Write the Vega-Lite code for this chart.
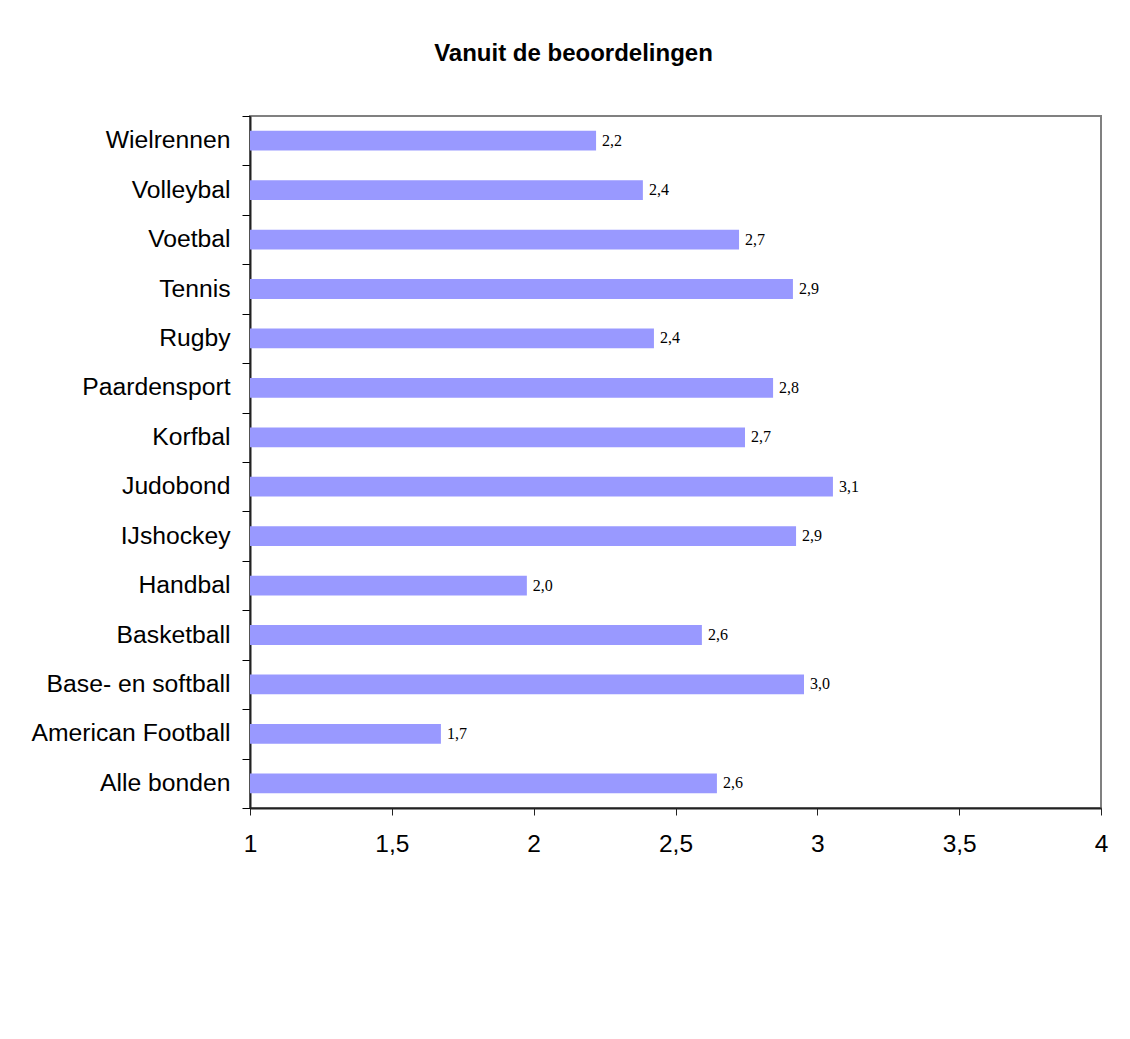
{
  "$schema": "https://vega.github.io/schema/vega-lite/v6.json",
  "autosize": {"type": "none"},
  "width": 851,
  "height": 692,
  "padding": {"left": 250, "top": 116, "right": 29, "bottom": 231},
  "background": "white",
  "title": {
    "text": "Vanuit de beoordelingen",
    "font": "Liberation Sans",
    "fontSize": 24,
    "fontWeight": "bold",
    "color": "black",
    "anchor": "middle",
    "frame": "group",
    "dx": -102,
    "offset": 37
  },
  "data": {
    "values": [
      {"bond": "Wielrennen", "score": 2.22},
      {"bond": "Volleybal", "score": 2.385},
      {"bond": "Voetbal", "score": 2.724},
      {"bond": "Tennis", "score": 2.914},
      {"bond": "Rugby", "score": 2.424},
      {"bond": "Paardensport", "score": 2.844},
      {"bond": "Korfbal", "score": 2.745},
      {"bond": "Judobond", "score": 3.055},
      {"bond": "IJshockey", "score": 2.925},
      {"bond": "Handbal", "score": 1.976},
      {"bond": "Basketball", "score": 2.593},
      {"bond": "Base- en softball", "score": 2.953},
      {"bond": "American Football", "score": 1.673},
      {"bond": "Alle bonden", "score": 2.646}
    ]
  },
  "encoding": {
    "y": {
      "field": "bond",
      "type": "nominal",
      "sort": null,
      "scale": {"paddingInner": 0, "paddingOuter": 0},
      "axis": {
        "title": null,
        "tickBand": "extent",
        "tickSize": 8,
        "tickColor": "black",
        "tickWidth": 1,
        "domainColor": "#222222",
        "domainWidth": 2,
        "labelPadding": 12,
        "labelFont": "Liberation Sans",
        "labelFontSize": 24.7,
        "labelColor": "black",
        "labelLimit": 400,
        "grid": false
      }
    }
  },
  "layer": [
    {
      "mark": {"type": "bar", "color": "#9999FF", "height": {"band": 0.4}},
      "encoding": {
        "x": {
          "field": "score",
          "type": "quantitative",
          "scale": {"domain": [1, 4], "nice": false, "zero": false},
          "axis": {
            "title": null,
            "values": [1, 1.5, 2, 2.5, 3, 3.5, 4],
            "format": ".1~f",
            "grid": false,
            "tickSize": 7,
            "tickColor": "#222222",
            "tickWidth": 1,
            "domainColor": "#222222",
            "domainWidth": 2,
            "labelPadding": 17,
            "labelFont": "Liberation Sans",
            "labelFontSize": 24.5,
            "labelColor": "black",
            "labelFlush": false
          }
        },
        "x2": {"datum": 1}
      }
    },
    {
      "mark": {"type": "text", "align": "left", "baseline": "middle", "dx": 6, "font": "Liberation Serif", "fontSize": 16, "color": "black"},
      "encoding": {
        "x": {"field": "score", "type": "quantitative"},
        "text": {"field": "score", "type": "quantitative", "format": ".1f"}
      }
    }
  ],
  "config": {
    "locale": {"number": {"decimal": ",", "thousands": ".", "grouping": [3], "currency": ["€", ""]}},
    "view": {"stroke": "#808080", "strokeWidth": 2}
  }
}
